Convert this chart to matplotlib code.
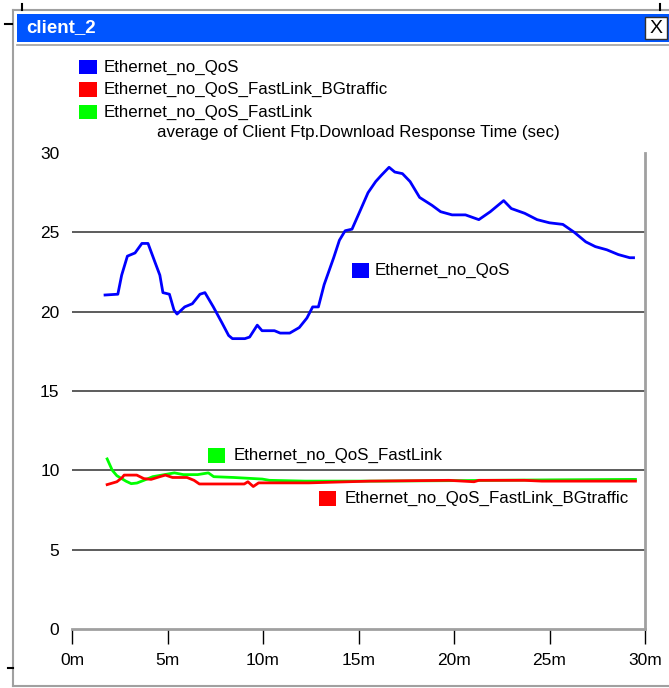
import numpy as np
import matplotlib
matplotlib.use("Agg")
import matplotlib.pyplot as plt
from matplotlib.lines import Line2D
from matplotlib.patches import Rectangle

plt.rcParams['font.family'] = ['Liberation Sans', 'DejaVu Sans']

W, H = 669, 688

# series values (time in minutes, response time in sec)
t_blue = [1.73, 2.4, 2.6, 2.9, 3.3, 3.66, 3.98, 4.35, 4.6, 4.76, 5.1, 5.34, 5.5,
          5.9, 6.3, 6.7, 6.96, 7.4, 7.85, 8.2, 8.4, 9.05, 9.3, 9.7, 9.95, 10.6,
          10.9, 11.4, 11.9, 12.3, 12.6, 12.9, 13.2, 13.7, 14.0, 14.3, 14.66, 15.1,
          15.5, 15.9, 16.2, 16.6, 16.9, 17.3, 17.7, 18.2, 18.85, 19.3, 19.9, 20.6,
          21.3, 21.9, 22.6, 23.0, 23.7, 24.35, 25.0, 25.7, 26.3, 26.9, 27.4, 28.0,
          28.6, 29.2, 29.4]
v_blue = [21.05, 21.1, 22.3, 23.5, 23.7, 24.3, 24.3, 23.1, 22.3, 21.2, 21.1, 20.1,
          19.85, 20.3, 20.5, 21.1, 21.2, 20.3, 19.3, 18.5, 18.3, 18.3, 18.4, 19.15,
          18.8, 18.8, 18.65, 18.65, 19.0, 19.6, 20.3, 20.3, 21.7, 23.4, 24.5, 25.1,
          25.2, 26.4, 27.5, 28.2, 28.6, 29.1, 28.8, 28.7, 28.2, 27.2, 26.7, 26.3,
          26.1, 26.1, 25.8, 26.3, 27.0, 26.5, 26.2, 25.8, 25.6, 25.5, 25.0, 24.4,
          24.1, 23.9, 23.6, 23.4, 23.4]

t_green = [1.84, 2.11, 2.35, 2.82, 3.1, 3.4, 3.76, 4.23, 4.7, 5.36, 5.83, 6.58,
           7.14, 7.42, 8.46, 9.21, 9.96, 10.34, 12.2, 15.98, 20.0, 25.0, 29.5]
v_green = [10.72, 10.0, 9.66, 9.32, 9.16, 9.2, 9.37, 9.6, 9.7, 9.84, 9.73, 9.73,
           9.84, 9.6, 9.55, 9.5, 9.45, 9.37, 9.32, 9.32, 9.35, 9.4, 9.43]

t_red = [1.84, 2.35, 2.63, 2.73, 3.39, 3.76, 4.14, 4.6, 4.89, 5.26, 6.02, 6.39,
         6.67, 9.02, 9.21, 9.49, 9.77, 12.4, 15.6, 19.74, 21.05, 21.3, 23.7, 24.6,
         29.5]
v_red = [9.1, 9.28, 9.55, 9.7, 9.7, 9.48, 9.43, 9.6, 9.7, 9.55, 9.55, 9.37, 9.14,
         9.14, 9.28, 8.98, 9.21, 9.21, 9.32, 9.37, 9.28, 9.37, 9.37, 9.32, 9.32]

series = ['Ethernet_no_QoS', 'Ethernet_no_QoS_FastLink_BGtraffic', 'Ethernet_no_QoS_FastLink']
colors = ['#0000ff', '#ff0000', '#00ff00']
x_ticks = [0, 5, 10, 15, 20, 25, 30]
x_labels = ['0m', '5m', '10m', '15m', '20m', '25m', '30m']
y_ticks = [0, 5, 10, 15, 20, 25, 30]
metric = 'average of Client Ftp.Download Response Time (sec)'


def fx(px):
    return px / W


def fy(py):
    return 1 - py / H


fig = plt.figure(figsize=(W / 100, H / 100), dpi=100)

# window frame
fig.add_artist(Line2D([fx(13), fx(13)], [fy(10), fy(686)], color='#a0a0a0', lw=1.5))
fig.add_artist(Line2D([fx(13), fx(669)], [fy(10), fy(10)], color='#a0a0a0', lw=1.5))
fig.add_artist(Line2D([fx(13), fx(669)], [fy(686), fy(686)], color='#a0a0a0', lw=1.5))
fig.add_artist(Line2D([fx(17), fx(669)], [fy(44.5), fy(44.5)], color='#a0a0a0', lw=1.2))
fig.add_artist(Rectangle((fx(17), fy(42)), fx(669 - 17), 28 / H, color='#0055ff', lw=0))
fig.text(fx(26), fy(28), 'client_2', color='white', fontsize=13.5, fontweight='bold',
         va='center', ha='left')
fig.add_artist(Rectangle((fx(645), fy(39)), fx(22), 22 / H, facecolor='white',
                         edgecolor='#303030', lw=1))
fig.text(fx(656), fy(28.5), 'X', color='black', fontsize=14, va='center', ha='center')
# small handles
for (x0, y0, x1, y1) in [(22, 4, 22, 10), (660, 4, 660, 10), (5, 24, 12, 24), (8, 668, 13, 668)]:
    fig.add_artist(Line2D([fx(x0), fx(x1)], [fy(y0), fy(y1)], color='black', lw=1.5))

ax = fig.add_axes([fx(72), fy(629), fx(645 - 72), (629 - 153) / H])
ax.plot(t_blue, v_blue, color=colors[0], lw=2)
ax.plot(t_green, v_green, color=colors[2], lw=2)
ax.plot(t_red, v_red, color=colors[1], lw=2)

ax.set_xlim(0, 30)
ax.set_ylim(0, 30)
ax.set_xticks(x_ticks)
ax.set_xticklabels(x_labels)
ax.set_yticks(y_ticks)
for y in y_ticks[1:-1]:
    ax.axhline(y, color='#303030', lw=1.1, zorder=0)

for s in ['top', 'left']:
    ax.spines[s].set_visible(False)
for s in ['bottom', 'right']:
    ax.spines[s].set_color('#a0a0a0')
    ax.spines[s].set_linewidth(2)
ax.tick_params(axis='x', direction='out', length=11, width=1, color='black',
               labelsize=12.5, pad=6)
ax.tick_params(axis='y', length=0, labelsize=12.5, pad=9)

# top legend
for i, name in enumerate(series):
    py = 67 + i * 22.5
    fig.add_artist(Rectangle((fx(79), fy(py + 7)), fx(18), 14 / H, color=colors[i], lw=0))
    fig.text(fx(104), fy(py), name, fontsize=12.2, va='center', ha='left')
fig.text(fx(157), fy(133), metric, fontsize=12.2, va='center', ha='left')

# inline labels
inline = [(0, 352, 270, 375), (2, 208, 455, 234), (1, 319, 498, 345)]
for idx, sx, sy, tx in inline:
    fig.add_artist(Rectangle((fx(sx), fy(sy + 8)), fx(17), 15 / H, color=colors[idx], lw=0))
    fig.text(fx(tx), fy(sy), series[idx], fontsize=12.2, va='center', ha='left')

fig.savefig('out.png', dpi=100)
